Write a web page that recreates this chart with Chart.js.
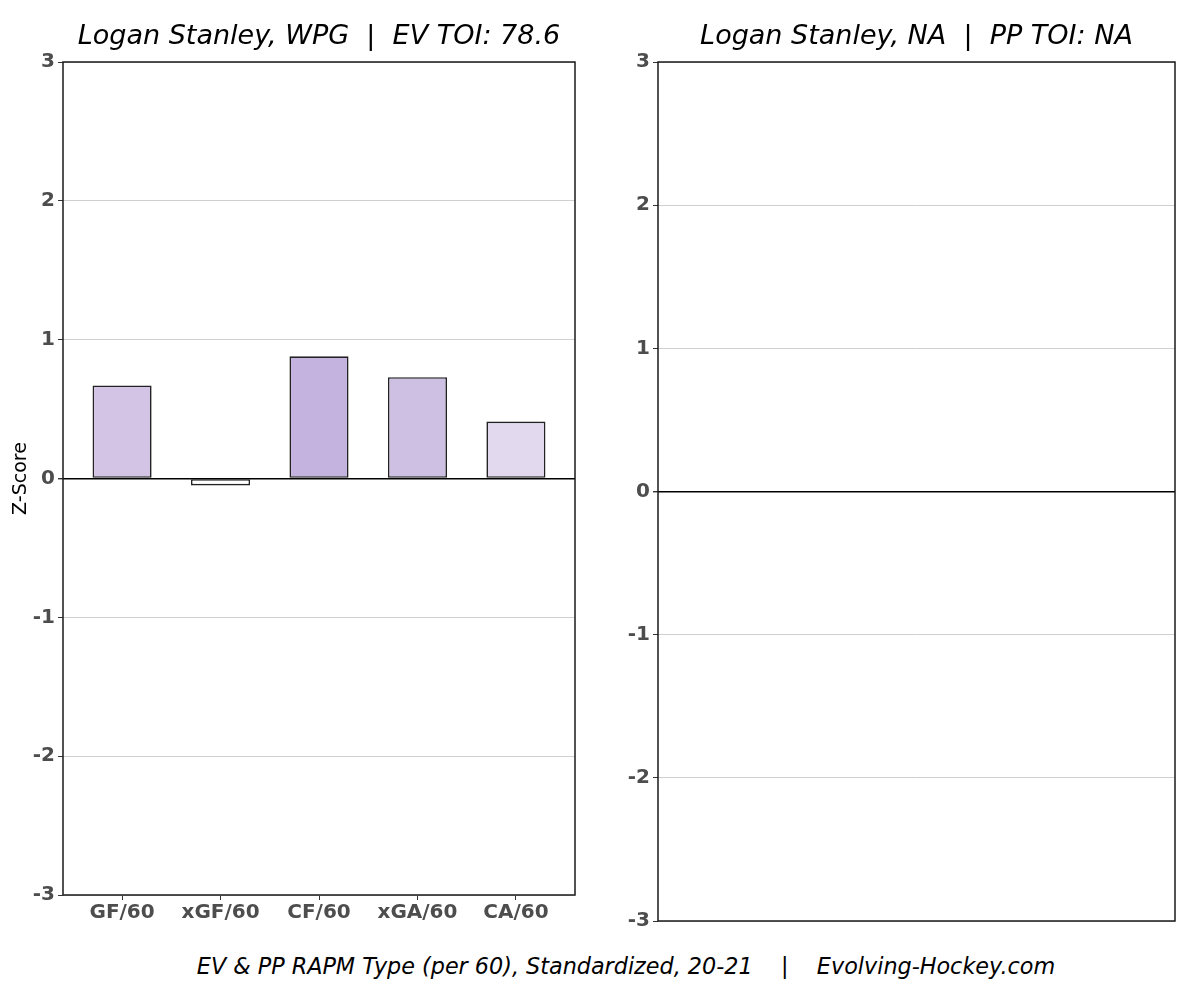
<!DOCTYPE html>
<html>
<head>
<meta charset="utf-8">
<script src="https://cdn.jsdelivr.net/npm/chart.js@4.4.1/dist/chart.umd.min.js"></script>
<style>
  html, body { margin: 0; padding: 0; background: #fff; }
  body { width: 1200px; height: 988px; position: relative; overflow: hidden; font-family: "DejaVu Sans", sans-serif; }
  #evBox { position: absolute; left: 0; top: 0; width: 590px; height: 940px; }
  #ppBox { position: absolute; left: 595px; top: 0; width: 605px; height: 936px; }
  #caption { position: absolute; left: 26px; top: 953px; width: 1200px; text-align: center;
             font-style: italic; font-size: 22.3px; color: #000; white-space: pre; }
</style>
</head>
<body>
<div id="evBox"><canvas id="evChart"></canvas></div>
<div id="ppBox"><canvas id="ppChart"></canvas></div>
<div id="caption">EV &amp; PP RAPM Type (per 60), Standardized, 20-21    |    Evolving-Hockey.com</div>
<script>
// --- DATA ---
const categories = ['GF/60', 'xGF/60', 'CF/60', 'xGA/60', 'CA/60']
const evValues = [0.67, -0.05, 0.88, 0.73, 0.41]
const ppValues = []
const yTicks = [-3, -2, -1, 0, 1, 2, 3]
const evTitle = 'Logan Stanley, WPG  |  EV TOI: 78.6'
const ppTitle = 'Logan Stanley, NA  |  PP TOI: NA'

// bar fills, one per category
const evColors = ['#d3c4e6', '#ffffff', '#c3b3de', '#cec0e3', '#e2d9ef']

const FONT = 'DejaVu Sans'
const tickFont = { family: FONT, size: 20, weight: 'bold' }

// box round the plot area
const panelBorder = {
    id: 'panelBorder',
    afterDraw(chart){
        const { ctx, chartArea: a } = chart
        ctx.save()
        ctx.strokeStyle = '#1a1a1a'
        ctx.lineWidth = 1.5
        ctx.strokeRect(a.left, a.top, a.right - a.left, a.bottom - a.top)
        ctx.restore()
    }
}

function yScale(withTitle){
    return {
        min: -3,
        max: 3,
        afterBuildTicks: s => { s.ticks = yTicks.map(v => ({ value: v })) },
        afterFit: s => { s.width = 63 },
        ticks: { color: '#4d4d4d', font: tickFont, padding: 3 },
        grid: {
            color: c => (c.tick && c.tick.value === 0) ? '#000000' : '#cfcfcf',
            lineWidth: c => (c.tick && c.tick.value === 0) ? 1.4 : 1,
            tickLength: 5,
            tickColor: '#333333'
        },
        border: { display: false },
        title: {
            display: withTitle,
            text: 'Z-Score',
            color: '#000',
            font: { family: FONT, size: 19 },
            padding: { top: 10, bottom: 0 }
        }
    }
}

function titleOpts(text){
    return {
        display: true,
        text: text,
        fullSize: false,
        color: '#000',
        font: { family: FONT, size: 27, style: 'italic', weight: 'normal' },
        padding: { top: 21, bottom: 8.6 }
    }
}

function initEvChart(){
    const ctx = document.getElementById('evChart').getContext('2d')

    new Chart(ctx, {
        type: 'bar',
        data: {
            datasets: [{
                data: evValues.map((v, i) => ({ x: i, y: v })),
                backgroundColor: evColors,
                borderColor: '#222222',
                borderWidth: 1.6,
                borderSkipped: false,
                barPercentage: 0.6,
                categoryPercentage: 1
            }]
        },
        options: {
            animation: false,
            responsive: true,
            maintainAspectRatio: false,
            layout: { padding: { left: 0, right: 15, top: 0, bottom: 0 } },
            plugins: {
                legend: { display: false },
                tooltip: { enabled: false },
                title: titleOpts(evTitle)
            },
            scales: {
                x: {
                    type: 'linear',
                    min: -0.6,
                    max: 4.6,
                    offset: false,
                    afterBuildTicks: s => { s.ticks = categories.map((c, i) => ({ value: i })) },
                    afterFit: s => { s.height = 45 },
                    ticks: {
                        callback: v => categories[v],
                        color: '#4d4d4d',
                        font: tickFont,
                        padding: 1,
                        autoSkip: false,
                        maxRotation: 0
                    },
                    grid: { drawOnChartArea: false, offset: false, tickLength: 5, tickColor: '#333333' },
                    border: { display: false }
                },
                y: yScale(true)
            }
        },
        plugins: [panelBorder]
    })
}

function initPpChart(){
    const ctx = document.getElementById('ppChart').getContext('2d')

    new Chart(ctx, {
        type: 'bar',
        data: {
            datasets: [{
                data: ppValues,
                borderColor: '#222222',
                borderWidth: 1
            }]
        },
        options: {
            animation: false,
            responsive: true,
            maintainAspectRatio: false,
            layout: { padding: { left: 0, right: 25, top: 0, bottom: 0 } },
            plugins: {
                legend: { display: false },
                tooltip: { enabled: false },
                title: titleOpts(ppTitle)
            },
            scales: {
                x: { type: 'linear', min: 0, max: 1, display: false },
                y: yScale(false)
            }
        },
        plugins: [panelBorder]
    })
}

initEvChart()
initPpChart()
</script>
</body>
</html>
